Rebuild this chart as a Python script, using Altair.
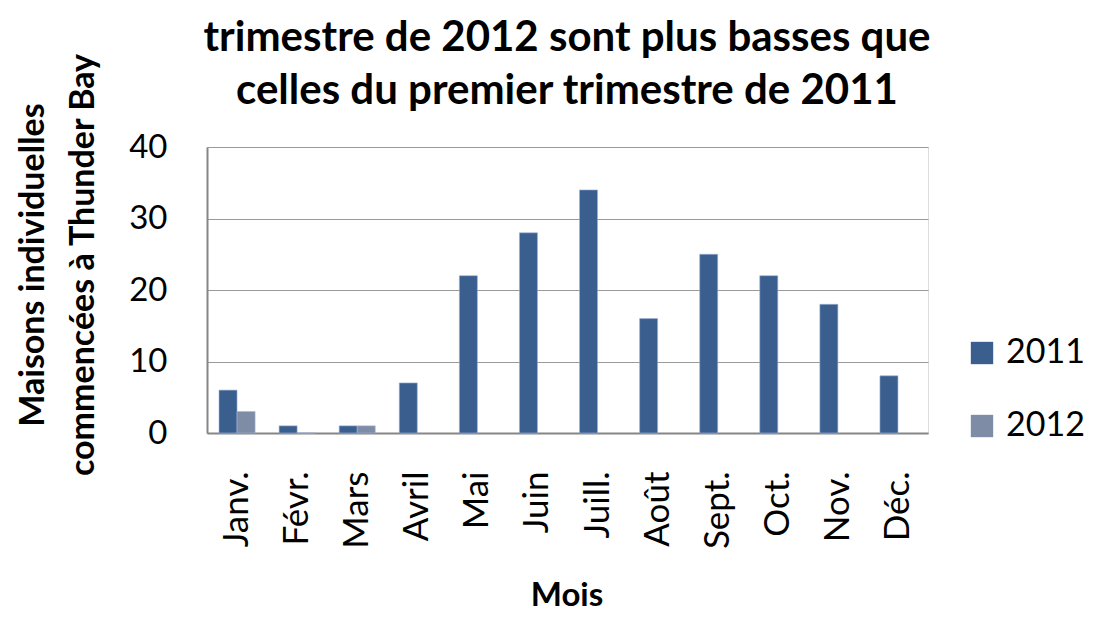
import altair as alt
import pandas as pd

months = ["Janv.", "Févr.", "Mars", "Avril", "Mai", "Juin", "Juill.", "Août", "Sept.", "Oct.", "Nov.", "Déc."]
v2011 = [6, 1, 1, 7, 22, 28, 34, 16, 25, 22, 18, 8]
v2012 = [3, 0, 1, None, None, None, None, None, None, None, None, None]
years = ["2011", "2012"]
colors = ["#3A5F8F", "#7F8CA6"]
title_lines = ["trimestre de 2012 sont plus basses que", "celles du premier trimestre de 2011"]
ytitle_lines = ["Maisons individuelles", "commencées à Thunder Bay"]
xtitle = "Mois"

rows = []
for m, a, b in zip(months, v2011, v2012):
    rows.append({"Mois": m, "Année": "2011", "Valeur": a})
    if b is not None:
        rows.append({"Mois": m, "Année": "2012", "Valeur": b})
df = pd.DataFrame(rows)

FONT = "Lato"

bars = alt.Chart(df).mark_bar(stroke="#9DB3D6", strokeWidth=0.6).encode(
    x=alt.X("Mois:N", sort=months, title=None,
            scale=alt.Scale(paddingInner=0.4, paddingOuter=0.2),
            axis=alt.Axis(labelAngle=-90, labelPadding=38, labelFontSize=35, labelFont=FONT,
                          labelColor="#000000", ticks=False, domainColor="#868686", domainWidth=2,
                          grid=False)),
    xOffset=alt.XOffset("Année:N", sort=years, scale=alt.Scale(paddingInner=0, paddingOuter=0)),
    y=alt.Y("Valeur:Q", title=None, scale=alt.Scale(domain=[0, 40]),
            axis=alt.Axis(values=[0, 10, 20, 30, 40], labelPadding=40, labelFontSize=33, labelFont=FONT,
                          labelColor="#000000", ticks=False, domainColor="#868686", domainWidth=2,
                          gridColor="#9a9a9a", gridWidth=1.2)),
    color=alt.Color("Année:N", sort=years, scale=alt.Scale(domain=years, range=colors),
                    legend=alt.Legend(title=None, orient="none", legendX=758, legendY=189,
                                      symbolType="square", symbolSize=500, symbolStrokeWidth=0,
                                      labelFontSize=34, labelFont=FONT, labelColor="#000000",
                                      rowPadding=39, labelOffset=7)),
)

tdf = pd.DataFrame({"t": title_lines, "y": [-96, -43]})
title = alt.Chart(tdf).mark_text(font=FONT, fontSize=42, fontWeight="bold", baseline="alphabetic",
                                 align="center", color="#000000").encode(
    x=alt.value(360), y=alt.Y("y:Q", scale=None), text="t:N")

ydf = pd.DataFrame({"t": ytitle_lines, "x": [-173, -123]})
ytitle = alt.Chart(ydf).mark_text(font=FONT, fontSize=34, fontWeight="bold", angle=270,
                                  baseline="middle", align="center", color="#000000").encode(
    x=alt.X("x:Q", scale=None), y=alt.value(118), text="t:N")

xdf = pd.DataFrame({"t": [xtitle]})
xt = alt.Chart(xdf).mark_text(font=FONT, fontSize=33, fontWeight="bold", baseline="middle",
                              align="center", color="#000000").encode(
    x=alt.value(360), y=alt.value(449), text="t:N")

chart = alt.layer(bars, title, ytitle, xt).properties(
    width=721, height=286,
    autosize=alt.AutoSizeParams(type="none"),
    padding={"left": 199, "top": 139, "right": 158, "bottom": 182},
).configure_view(stroke=None).configure(background="#ffffff")

chart.save("out.html", embed_options={"renderer": "svg", "actions": False})
